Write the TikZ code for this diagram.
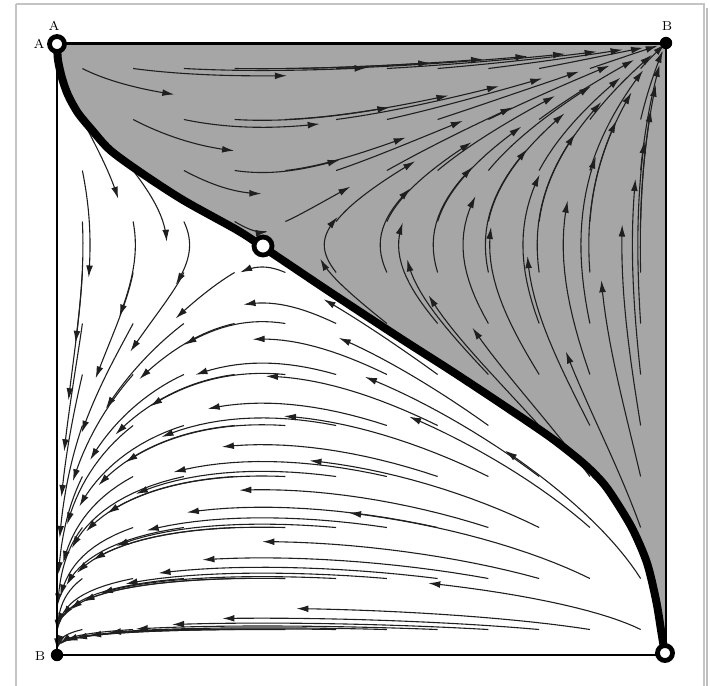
\documentclass[tikz,border=0pt]{standalone}
\usetikzlibrary{arrows.meta}
\definecolor{regiongray}{RGB}{166,166,166}
\definecolor{framegray}{RGB}{196,196,196}
% field parameters (replicator-like dynamics)
\newcommand\Aa{2}
\newcommand\Bb{1}
\newcommand\sadU{0.337}
\newcommand\sadV{0.67}
\newcommand\pp{0.3}
\newcommand\dtt{0.08}
\newcommand\NN{16}
\newcommand\vel[2]{%
  \xdef\tfu{\fpeval{\Aa*(#1)*(1-(#1))*((#2)-\sadV)}}%
  \xdef\tfv{\fpeval{\Bb*(#2)*(1-(#2))*((#1)-\sadU)}}%
  \xdef\tfs{\fpeval{((\tfu)^2+(\tfv)^2+1e-14)^(-\pp/2)}}%
  \xdef\gu{\fpeval{(\tfu)*(\tfs)}}%
  \xdef\gv{\fpeval{(\tfv)*(\tfs)}}%
}
\newcommand\rkstep{%
  \vel{\cu}{\cv}%
  \xdef\mU{\fpeval{(\cu)+0.5*\dtt*(\gu)}}%
  \xdef\mV{\fpeval{(\cv)+0.5*\dtt*(\gv)}}%
  \vel{\mU}{\mV}%
  \xdef\cu{\fpeval{(\cu)+\dtt*(\gu)}}%
  \xdef\cv{\fpeval{(\cv)+\dtt*(\gv)}}%
  \xdef\nX{\fpeval{round(57+609*(\cu),2)}}%
  \xdef\nY{\fpeval{round(655-612*(\cv),2)}}%
  \ifnum\fpeval{((\nX)-(\lX))^2+((\nY)-(\lY))^2>0.36}=1
    \xdef\pts{\pts -- (\nX,\nY)}%
    \xdef\lX{\nX}\xdef\lY{\nY}%
  \fi
}
\begin{document}
\begin{tikzpicture}[x=0.5pt,y=-0.5pt,
  stream/.style={line width=0.55pt, black!88, -{Latex[length=6pt,width=3.4pt]}},
  sep/.style={line width=4pt, black, line cap=round, line join=round},
  openpt/.style={circle, draw=black, fill=white, line width=2.4pt, inner sep=0pt, minimum size=7.5pt},
  fullpt/.style={circle, fill=black, inner sep=0pt, minimum size=6.2pt},
  lbl/.style={font=\fontsize{6.5}{7}\selectfont, inner sep=0pt}]
\useasboundingbox (0,0) rectangle (710,685);
% outer frame
\draw[framegray, line width=1.2pt] (16,4) -- (704,4) -- (704,700);
\draw[framegray, line width=1.2pt] (16,4) -- (16,700);
\draw[black!25, line width=1pt] (707,8) -- (707,700);
% basin of the top-right corner
\fill[regiongray] plot[smooth, tension=0.5] coordinates {(57,43) (58,60) (62,78) (68,95) (78,113) (92,130) (110,150) (140,172) (183,200) (237,230) (263,247) (330,292) (400,338) (450,370) (500,403) (550,437) (583,463) (603,483) (617,503) (633,530) (647,563) (656,600) (661,630) (665,655)} -- (666,43) -- cycle;
% streamlines
\foreach \i in {0,...,11}{%
  \foreach \j in {0,...,11}{%
    \xdef\cu{\fpeval{(\i+0.5)/12}}%
    \xdef\cv{\fpeval{(\j+0.5)/12}}%
    \xdef\lX{\fpeval{round(57+609*(\cu),2)}}%
    \xdef\lY{\fpeval{round(655-612*(\cv),2)}}%
    \xdef\pts{(\lX,\lY)}%
    \foreach \k in {1,...,\NN}{\rkstep}%
    \edef\tmp{\noexpand\draw[stream] \pts;}\tmp
  }%
}
% square
\draw[line width=1.2pt] (57,655) -- (57,43);
\draw[line width=1.5pt] (57,43) -- (666,43);
\draw[line width=1.2pt] (666,43) -- (666,655) -- (57,655);
% separatrix
\draw[sep] plot[smooth, tension=0.5] coordinates {(57,43) (58,60) (62,78) (68,95) (78,113) (92,130) (110,150) (140,172) (183,200) (237,230) (263,247) (330,292) (400,338) (450,370) (500,403) (550,437) (583,463) (603,483) (617,503) (633,530) (647,563) (656,600) (661,630) (665,655)};
% rest points
\node[openpt] (ptA) at (57,44) {};
\node[openpt, minimum width=7.5pt, minimum height=9pt] (saddle) at (263,246) {};
\node[openpt] (ptBR) at (665,653) {};
\node[fullpt] (ptBtop) at (666,43) {};
\node[fullpt] (ptBbot) at (57,655) {};
% labels
\node[lbl] (labAtop) at (54,26) {A};
\node[lbl] (labAleft) at (39,44) {A};
\node[lbl] (labBtop) at (667,26) {B};
\node[lbl] (labBbot) at (40,656) {B};
\end{tikzpicture}
\end{document}
